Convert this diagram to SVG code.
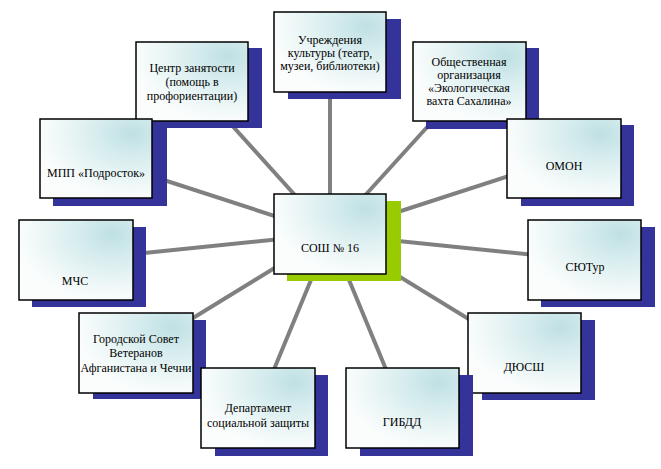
<svg xmlns="http://www.w3.org/2000/svg" width="661" height="469" viewBox="0 0 661 469">
<defs>
<radialGradient id="fill" cx="0.82" cy="0.18" r="0.85" fx="0.82" fy="0.18">
<stop offset="0" stop-color="#bfe0e3"/>
<stop offset="0.35" stop-color="#d6ecee"/>
<stop offset="0.75" stop-color="#eef7f7"/>
<stop offset="1" stop-color="#fbfdfd"/>
</radialGradient>
</defs>
<style>
.box{fill:url(#fill);stroke:#000;stroke-width:1.5}
.sh{fill:#333399}
.gsh{fill:#99cc00}
.ln{stroke:#808080;stroke-width:4;fill:none}
text{font-family:"Liberation Serif","Times New Roman",serif;font-size:12px;fill:#000;text-anchor:middle}
</style>
<rect width="661" height="469" fill="#fff"/>
<g id="connectors">
<line class="ln" x1="330" y1="234" x2="330" y2="52"/>
<line class="ln" x1="330" y1="234" x2="192" y2="81"/>
<line class="ln" x1="330" y1="234" x2="469" y2="81"/>
<line class="ln" x1="330" y1="234" x2="564" y2="158"/>
<line class="ln" x1="330" y1="234" x2="96" y2="158"/>
<line class="ln" x1="330" y1="234" x2="76" y2="260"/>
<line class="ln" x1="330" y1="234" x2="584" y2="260"/>
<line class="ln" x1="330" y1="234" x2="136" y2="353"/>
<line class="ln" x1="330" y1="234" x2="524" y2="353"/>
<line class="ln" x1="330" y1="234" x2="258" y2="408"/>
<line class="ln" x1="330" y1="234" x2="402" y2="408"/>
</g>
<g id="n-culture">
<rect class="sh" x="288" y="19" width="113" height="80"/>
<rect class="box" x="274" y="12" width="112" height="80"/>
<text x="330" y="44">Учреждения</text>
<text x="330" y="57">культуры (театр,</text>
<text x="330" y="70">музеи, библиотеки)</text>
</g>
<g id="n-employment">
<rect class="sh" x="150" y="48" width="112" height="80"/>
<rect class="box" x="136" y="42" width="112" height="79"/>
<text x="192" y="72">Центр занятости</text>
<text x="192" y="86">(помощь в</text>
<text x="192" y="100">профориентации)</text>
</g>
<g id="n-eco">
<rect class="sh" x="426" y="48" width="113" height="81"/>
<rect class="box" x="413" y="42" width="113" height="79"/>
<text x="469" y="66">Общественная</text>
<text x="469" y="79">организация</text>
<text x="469" y="92">«Экологическая</text>
<text x="469" y="105">вахта Сахалина»</text>
</g>
<g id="n-mpp">
<rect class="sh" x="53" y="126" width="114" height="80"/>
<rect class="box" x="40" y="119" width="112" height="79"/>
<text x="96" y="177">МПП «Подросток»</text>
</g>
<g id="n-omon">
<rect class="sh" x="521" y="125" width="113" height="81"/>
<rect class="box" x="507" y="119" width="114" height="79"/>
<text x="564" y="170">ОМОН</text>
</g>
<g id="n-school">
<rect class="gsh" x="287" y="201" width="114" height="80"/>
<rect class="box" x="274" y="194" width="112" height="80"/>
<text x="330" y="252">СОШ № 16</text>
</g>
<g id="n-mchs">
<rect class="sh" x="32" y="227" width="114" height="80"/>
<rect class="box" x="19" y="220" width="114" height="80"/>
<text x="75" y="285">МЧС</text>
</g>
<g id="n-syutur">
<rect class="sh" x="541" y="227" width="114" height="80"/>
<rect class="box" x="528" y="220" width="113" height="80"/>
<text x="585" y="271">СЮТур</text>
</g>
<g id="n-veterans">
<rect class="sh" x="93" y="320" width="113" height="79"/>
<rect class="box" x="79" y="313" width="114" height="80"/>
<text x="136" y="343">Городской Совет</text>
<text x="136" y="357">Ветеранов</text>
<text x="136" y="372">Афганистана и Чечни</text>
</g>
<g id="n-dyussh">
<rect class="sh" x="482" y="320" width="113" height="80"/>
<rect class="box" x="468" y="313" width="113" height="80"/>
<text x="524" y="371">ДЮСШ</text>
</g>
<g id="n-social">
<rect class="sh" x="215" y="375" width="113" height="81"/>
<rect class="box" x="201" y="368" width="114" height="80"/>
<text x="258" y="412">Департамент</text>
<text x="258" y="427">социальной защиты</text>
</g>
<g id="n-gibdd">
<rect class="sh" x="360" y="375" width="113" height="81"/>
<rect class="box" x="346" y="368" width="113" height="80"/>
<text x="402" y="426">ГИБДД</text>
</g>
</svg>
